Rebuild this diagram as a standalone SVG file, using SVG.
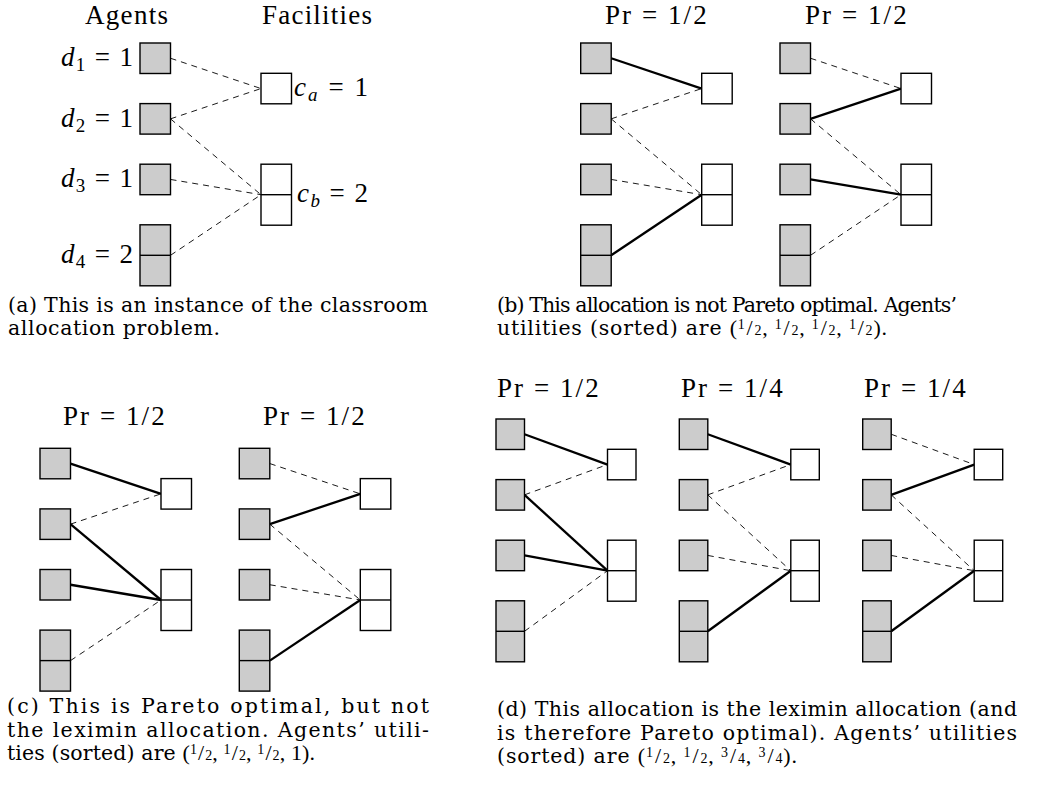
<svg xmlns="http://www.w3.org/2000/svg" width="1049" height="790" viewBox="0 0 1049 790">
<style>
.ag{fill:#cccccc;stroke:#000;stroke-width:1.4}
.fc{fill:#fff;stroke:#000;stroke-width:1.4}
.dv{stroke:#000;stroke-width:1.4}
.sol{stroke:#000;stroke-width:2.3;fill:none}
.dsh{stroke:#000;stroke-width:0.9;stroke-dasharray:6 5;fill:none}
.lbl{font-family:"Liberation Serif","Times New Roman",serif;font-size:27px;fill:#000}
.cap{font-family:"DejaVu Serif",serif;font-size:20.5px;fill:#000}
.m{font-family:"Liberation Serif",serif;font-size:22px}
.sm{font-size:14px}
.it{font-style:italic}
.sub{font-size:19px}
</style>

<!-- Panel (a) -->
<g id="panel-a">
<text class="lbl" x="85" y="23.5" textLength="83" lengthAdjust="spacing">Agents</text>
<text class="lbl" x="262" y="23.5" textLength="110" lengthAdjust="spacing">Facilities</text>
<text class="lbl" x="61" y="66" textLength="72" lengthAdjust="spacing"><tspan class="it">d</tspan><tspan class="sub" dy="5">1</tspan><tspan dy="-5"> = 1</tspan></text>
<text class="lbl" x="61" y="126.5" textLength="72" lengthAdjust="spacing"><tspan class="it">d</tspan><tspan class="sub" dy="5">2</tspan><tspan dy="-5"> = 1</tspan></text>
<text class="lbl" x="61" y="187" textLength="72" lengthAdjust="spacing"><tspan class="it">d</tspan><tspan class="sub" dy="5">3</tspan><tspan dy="-5"> = 1</tspan></text>
<text class="lbl" x="61" y="263" textLength="72" lengthAdjust="spacing"><tspan class="it">d</tspan><tspan class="sub" dy="5">4</tspan><tspan dy="-5"> = 2</tspan></text>
<text class="lbl" x="294" y="96" textLength="74" lengthAdjust="spacing"><tspan class="it">c</tspan><tspan class="sub it" dy="5">a</tspan><tspan dy="-5"> = 1</tspan></text>
<text class="lbl" x="297" y="201.5" textLength="71" lengthAdjust="spacing"><tspan class="it">c</tspan><tspan class="sub it" dy="5">b</tspan><tspan dy="-5"> = 2</tspan></text>
<g transform="translate(140,43)">
<g class="connectors">
<line class="dsh" x1="30.5" y1="15.25" x2="121" y2="45.55"/>
<line class="dsh" x1="30.5" y1="75.85" x2="121" y2="45.55"/>
<line class="dsh" x1="30.5" y1="75.85" x2="121" y2="151.7"/>
<line class="dsh" x1="30.5" y1="136.45" x2="121" y2="151.7"/>
<line class="dsh" x1="30.5" y1="212.3" x2="121" y2="151.7"/>
</g>
<g id="a-agent1"><rect class="ag" x="0" y="0" width="30.5" height="30.5"/></g>
<g id="a-agent2"><rect class="ag" x="0" y="60.6" width="30.5" height="30.5"/></g>
<g id="a-agent3"><rect class="ag" x="0" y="121.2" width="30.5" height="30.5"/></g>
<g id="a-agent4"><rect class="ag" x="0" y="181.8" width="30.5" height="61"/><line class="dv" x1="0" y1="212.3" x2="30.5" y2="212.3"/></g>
<g id="a-facA"><rect class="fc" x="121" y="30.3" width="30.5" height="30.5"/></g>
<g id="a-facB"><rect class="fc" x="121" y="121.2" width="30.5" height="61"/><line class="dv" x1="121" y1="151.7" x2="151.5" y2="151.7"/></g>
</g>
<text class="cap" x="8" y="311.7" textLength="420" lengthAdjust="spacing">(a) This is an instance of the classroom</text>
<text class="cap" x="8" y="335.2" textLength="212" lengthAdjust="spacing">allocation problem.</text>
</g>

<!-- Panel (b) -->
<g id="panel-b">
<text class="lbl" x="605" y="23.5" textLength="101.7" lengthAdjust="spacing">Pr = 1/2</text>
<text class="lbl" x="805" y="23.5" textLength="101.7" lengthAdjust="spacing">Pr = 1/2</text>
<g transform="translate(580.7,43)">
<g class="connectors">
<line class="sol" x1="30.5" y1="15.25" x2="121" y2="45.55"/>
<line class="dsh" x1="30.5" y1="75.85" x2="121" y2="45.55"/>
<line class="dsh" x1="30.5" y1="75.85" x2="121" y2="151.7"/>
<line class="dsh" x1="30.5" y1="136.45" x2="121" y2="151.7"/>
<line class="sol" x1="30.5" y1="212.3" x2="121" y2="151.7"/>
</g>
<g id="b1-agent1"><rect class="ag" x="0" y="0" width="30.5" height="30.5"/></g>
<g id="b1-agent2"><rect class="ag" x="0" y="60.6" width="30.5" height="30.5"/></g>
<g id="b1-agent3"><rect class="ag" x="0" y="121.2" width="30.5" height="30.5"/></g>
<g id="b1-agent4"><rect class="ag" x="0" y="181.8" width="30.5" height="61"/><line class="dv" x1="0" y1="212.3" x2="30.5" y2="212.3"/></g>
<g id="b1-facA"><rect class="fc" x="121" y="30.3" width="30.5" height="30.5"/></g>
<g id="b1-facB"><rect class="fc" x="121" y="121.2" width="30.5" height="61"/><line class="dv" x1="121" y1="151.7" x2="151.5" y2="151.7"/></g>
</g>
<g transform="translate(780,43)">
<g class="connectors">
<line class="dsh" x1="30.5" y1="15.25" x2="121" y2="45.55"/>
<line class="sol" x1="30.5" y1="75.85" x2="121" y2="45.55"/>
<line class="dsh" x1="30.5" y1="75.85" x2="121" y2="151.7"/>
<line class="sol" x1="30.5" y1="136.45" x2="121" y2="151.7"/>
<line class="dsh" x1="30.5" y1="212.3" x2="121" y2="151.7"/>
</g>
<g id="b2-agent1"><rect class="ag" x="0" y="0" width="30.5" height="30.5"/></g>
<g id="b2-agent2"><rect class="ag" x="0" y="60.6" width="30.5" height="30.5"/></g>
<g id="b2-agent3"><rect class="ag" x="0" y="121.2" width="30.5" height="30.5"/></g>
<g id="b2-agent4"><rect class="ag" x="0" y="181.8" width="30.5" height="61"/><line class="dv" x1="0" y1="212.3" x2="30.5" y2="212.3"/></g>
<g id="b2-facA"><rect class="fc" x="121" y="30.3" width="30.5" height="30.5"/></g>
<g id="b2-facB"><rect class="fc" x="121" y="121.2" width="30.5" height="61"/><line class="dv" x1="121" y1="151.7" x2="151.5" y2="151.7"/></g>
</g>
<text class="cap" x="497" y="311.7" textLength="460" lengthAdjust="spacing">(b) This allocation is not Pareto optimal. Agents’</text>
<text class="cap" x="497" y="335.2" textLength="390" lengthAdjust="spacing">utilities (sorted) are <tspan class="m">(<tspan class="sm" dy="-6">1</tspan><tspan dy="6" dx="1">/</tspan><tspan class="sm" dx="1">2</tspan>, <tspan class="sm" dy="-6">1</tspan><tspan dy="6" dx="1">/</tspan><tspan class="sm" dx="1">2</tspan>, <tspan class="sm" dy="-6">1</tspan><tspan dy="6" dx="1">/</tspan><tspan class="sm" dx="1">2</tspan>, <tspan class="sm" dy="-6">1</tspan><tspan dy="6" dx="1">/</tspan><tspan class="sm" dx="1">2</tspan>).</tspan></text>
</g>

<!-- Panel (c) -->
<g id="panel-c">
<text class="lbl" x="63" y="425" textLength="101.7" lengthAdjust="spacing">Pr = 1/2</text>
<text class="lbl" x="263" y="425" textLength="101.7" lengthAdjust="spacing">Pr = 1/2</text>
<g transform="translate(40,448.3)">
<g class="connectors">
<line class="sol" x1="30.5" y1="15.25" x2="121" y2="45.55"/>
<line class="dsh" x1="30.5" y1="75.85" x2="121" y2="45.55"/>
<line class="sol" x1="30.5" y1="75.85" x2="121" y2="151.7"/>
<line class="sol" x1="30.5" y1="136.45" x2="121" y2="151.7"/>
<line class="dsh" x1="30.5" y1="212.3" x2="121" y2="151.7"/>
</g>
<g id="c1-agent1"><rect class="ag" x="0" y="0" width="30.5" height="30.5"/></g>
<g id="c1-agent2"><rect class="ag" x="0" y="60.6" width="30.5" height="30.5"/></g>
<g id="c1-agent3"><rect class="ag" x="0" y="121.2" width="30.5" height="30.5"/></g>
<g id="c1-agent4"><rect class="ag" x="0" y="181.8" width="30.5" height="61"/><line class="dv" x1="0" y1="212.3" x2="30.5" y2="212.3"/></g>
<g id="c1-facA"><rect class="fc" x="121" y="30.3" width="30.5" height="30.5"/></g>
<g id="c1-facB"><rect class="fc" x="121" y="121.2" width="30.5" height="61"/><line class="dv" x1="121" y1="151.7" x2="151.5" y2="151.7"/></g>
</g>
<g transform="translate(239.3,448.3)">
<g class="connectors">
<line class="dsh" x1="30.5" y1="15.25" x2="121" y2="45.55"/>
<line class="sol" x1="30.5" y1="75.85" x2="121" y2="45.55"/>
<line class="dsh" x1="30.5" y1="75.85" x2="121" y2="151.7"/>
<line class="dsh" x1="30.5" y1="136.45" x2="121" y2="151.7"/>
<line class="sol" x1="30.5" y1="212.3" x2="121" y2="151.7"/>
</g>
<g id="c2-agent1"><rect class="ag" x="0" y="0" width="30.5" height="30.5"/></g>
<g id="c2-agent2"><rect class="ag" x="0" y="60.6" width="30.5" height="30.5"/></g>
<g id="c2-agent3"><rect class="ag" x="0" y="121.2" width="30.5" height="30.5"/></g>
<g id="c2-agent4"><rect class="ag" x="0" y="181.8" width="30.5" height="61"/><line class="dv" x1="0" y1="212.3" x2="30.5" y2="212.3"/></g>
<g id="c2-facA"><rect class="fc" x="121" y="30.3" width="30.5" height="30.5"/></g>
<g id="c2-facB"><rect class="fc" x="121" y="121.2" width="30.5" height="61"/><line class="dv" x1="121" y1="151.7" x2="151.5" y2="151.7"/></g>
</g>
<text class="cap" x="7" y="713" textLength="422" lengthAdjust="spacing">(c) This is Pareto optimal, but not</text>
<text class="cap" x="7" y="736.7" textLength="422" lengthAdjust="spacing">the leximin allocation. Agents’ utili-</text>
<text class="cap" x="7" y="760.3" textLength="308" lengthAdjust="spacing">ties (sorted) are <tspan class="m">(<tspan class="sm" dy="-6">1</tspan><tspan dy="6" dx="1">/</tspan><tspan class="sm" dx="1">2</tspan>, <tspan class="sm" dy="-6">1</tspan><tspan dy="6" dx="1">/</tspan><tspan class="sm" dx="1">2</tspan>, <tspan class="sm" dy="-6">1</tspan><tspan dy="6" dx="1">/</tspan><tspan class="sm" dx="1">2</tspan>, 1).</tspan></text>
</g>

<!-- Panel (d) -->
<g id="panel-d">
<text class="lbl" x="497" y="397" textLength="101.7" lengthAdjust="spacing">Pr = 1/2</text>
<text class="lbl" x="681" y="397" textLength="101.7" lengthAdjust="spacing">Pr = 1/4</text>
<text class="lbl" x="864" y="397" textLength="101.7" lengthAdjust="spacing">Pr = 1/4</text>
<g transform="translate(496,419)">
<g class="connectors">
<line class="sol" x1="28.5" y1="15.25" x2="111.5" y2="45.55"/>
<line class="dsh" x1="28.5" y1="75.85" x2="111.5" y2="45.55"/>
<line class="sol" x1="28.5" y1="75.85" x2="111.5" y2="151.7"/>
<line class="sol" x1="28.5" y1="136.45" x2="111.5" y2="151.7"/>
<line class="dsh" x1="28.5" y1="212.3" x2="111.5" y2="151.7"/>
</g>
<g id="d1-agent1"><rect class="ag" x="0" y="0" width="28.5" height="30.5"/></g>
<g id="d1-agent2"><rect class="ag" x="0" y="60.6" width="28.5" height="30.5"/></g>
<g id="d1-agent3"><rect class="ag" x="0" y="121.2" width="28.5" height="30.5"/></g>
<g id="d1-agent4"><rect class="ag" x="0" y="181.8" width="28.5" height="61"/><line class="dv" x1="0" y1="212.3" x2="28.5" y2="212.3"/></g>
<g id="d1-facA"><rect class="fc" x="111.5" y="30.3" width="28.5" height="30.5"/></g>
<g id="d1-facB"><rect class="fc" x="111.5" y="121.2" width="28.5" height="61"/><line class="dv" x1="111.5" y1="151.7" x2="140" y2="151.7"/></g>
</g>
<g transform="translate(679.3,419)">
<g class="connectors">
<line class="sol" x1="28.5" y1="15.25" x2="111.5" y2="45.55"/>
<line class="dsh" x1="28.5" y1="75.85" x2="111.5" y2="45.55"/>
<line class="dsh" x1="28.5" y1="75.85" x2="111.5" y2="151.7"/>
<line class="dsh" x1="28.5" y1="136.45" x2="111.5" y2="151.7"/>
<line class="sol" x1="28.5" y1="212.3" x2="111.5" y2="151.7"/>
</g>
<g id="d2-agent1"><rect class="ag" x="0" y="0" width="28.5" height="30.5"/></g>
<g id="d2-agent2"><rect class="ag" x="0" y="60.6" width="28.5" height="30.5"/></g>
<g id="d2-agent3"><rect class="ag" x="0" y="121.2" width="28.5" height="30.5"/></g>
<g id="d2-agent4"><rect class="ag" x="0" y="181.8" width="28.5" height="61"/><line class="dv" x1="0" y1="212.3" x2="28.5" y2="212.3"/></g>
<g id="d2-facA"><rect class="fc" x="111.5" y="30.3" width="28.5" height="30.5"/></g>
<g id="d2-facB"><rect class="fc" x="111.5" y="121.2" width="28.5" height="61"/><line class="dv" x1="111.5" y1="151.7" x2="140" y2="151.7"/></g>
</g>
<g transform="translate(862.7,419)">
<g class="connectors">
<line class="dsh" x1="28.5" y1="15.25" x2="111.5" y2="45.55"/>
<line class="sol" x1="28.5" y1="75.85" x2="111.5" y2="45.55"/>
<line class="dsh" x1="28.5" y1="75.85" x2="111.5" y2="151.7"/>
<line class="dsh" x1="28.5" y1="136.45" x2="111.5" y2="151.7"/>
<line class="sol" x1="28.5" y1="212.3" x2="111.5" y2="151.7"/>
</g>
<g id="d3-agent1"><rect class="ag" x="0" y="0" width="28.5" height="30.5"/></g>
<g id="d3-agent2"><rect class="ag" x="0" y="60.6" width="28.5" height="30.5"/></g>
<g id="d3-agent3"><rect class="ag" x="0" y="121.2" width="28.5" height="30.5"/></g>
<g id="d3-agent4"><rect class="ag" x="0" y="181.8" width="28.5" height="61"/><line class="dv" x1="0" y1="212.3" x2="28.5" y2="212.3"/></g>
<g id="d3-facA"><rect class="fc" x="111.5" y="30.3" width="28.5" height="30.5"/></g>
<g id="d3-facB"><rect class="fc" x="111.5" y="121.2" width="28.5" height="61"/><line class="dv" x1="111.5" y1="151.7" x2="140" y2="151.7"/></g>
</g>
<text class="cap" x="497" y="716" textLength="520" lengthAdjust="spacing">(d) This allocation is the leximin allocation (and</text>
<text class="cap" x="497" y="739.6" textLength="520" lengthAdjust="spacing">is therefore Pareto optimal). Agents’ utilities</text>
<text class="cap" x="497" y="763.2" textLength="300" lengthAdjust="spacing">(sorted) are <tspan class="m">(<tspan class="sm" dy="-6">1</tspan><tspan dy="6" dx="1">/</tspan><tspan class="sm" dx="1">2</tspan>, <tspan class="sm" dy="-6">1</tspan><tspan dy="6" dx="1">/</tspan><tspan class="sm" dx="1">2</tspan>, <tspan class="sm" dy="-6">3</tspan><tspan dy="6" dx="1">/</tspan><tspan class="sm" dx="1">4</tspan>, <tspan class="sm" dy="-6">3</tspan><tspan dy="6" dx="1">/</tspan><tspan class="sm" dx="1">4</tspan>).</tspan></text>
</g>
</svg>
